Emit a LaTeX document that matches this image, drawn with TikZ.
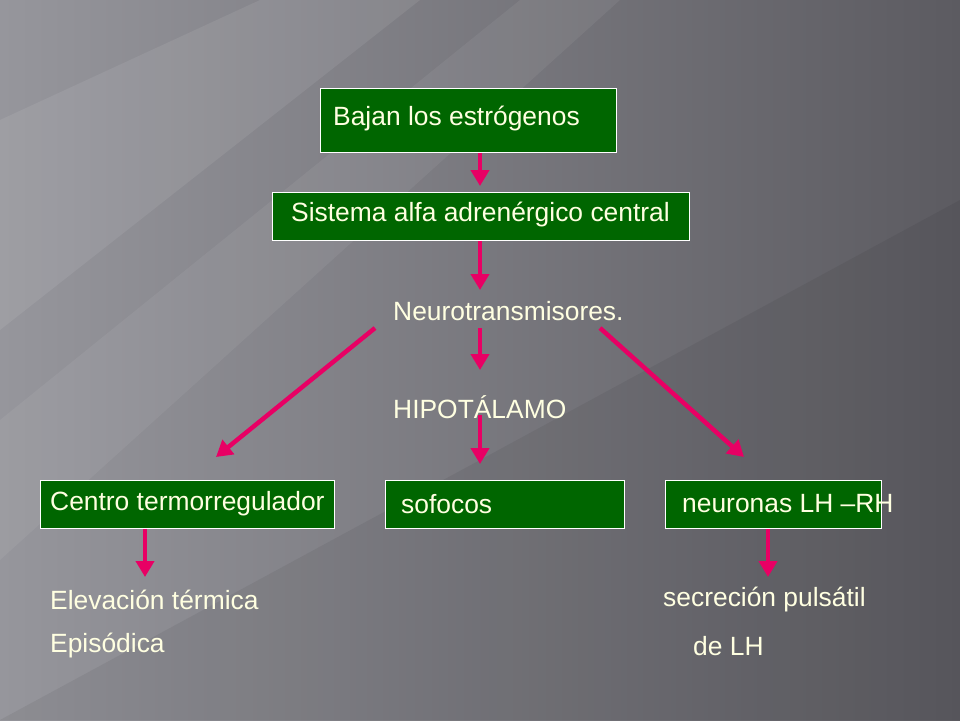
\documentclass[tikz,border=0pt]{standalone}
\usepackage{fontspec}
\setmainfont{Liberation Sans}
\usetikzlibrary{arrows.meta}
\definecolor{bgl}{RGB}{150,150,156}
\definecolor{bgd}{RGB}{92,91,97}
\definecolor{boxg}{RGB}{0,102,0}
\definecolor{txt}{RGB}{255,255,225}
\definecolor{arr}{RGB}{232,0,100}
\tikzset{
  box/.style={draw=white, line width=0.8pt, fill=boxg, inner sep=0pt, anchor=north west},
  lbl/.style={text=txt, font=\fontsize{26.4}{30}\selectfont, anchor=west, inner sep=0pt},
  arrw/.style={draw=arr, line width=4.5pt, -{Triangle[length=16pt,width=18pt]}}
}
\begin{document}
\begin{tikzpicture}[x=1pt,y=-1pt]
\useasboundingbox (0,0) rectangle (960,720);
\fill[left color=bgl, right color=bgd] (0,0) rectangle (960,720);
\fill[white, opacity=0.08] (0,120) -- (260,0) -- (420,0) -- (0,330) -- cycle;
\fill[white, opacity=0.06] (0,420) -- (520,0) -- (620,0) -- (0,560) -- cycle;
\fill[black, opacity=0.06] (0,720) -- (960,200) -- (960,720) -- cycle;
% boxes
\node[box, minimum width=296pt, minimum height=64pt] (b1) at (320,88) {};
\node[lbl] (t1) at (333,119) {Bajan los estrógenos};
\node[box, minimum width=417pt, minimum height=48pt] (b2) at (272,192) {};
\node[lbl] (t2) at (291,215) {Sistema alfa adrenérgico central};
\node[lbl] (nt) at (393,311) {Neurotransmisores.};
\node[lbl] (hp) at (393,407) {HIPOTÁLAMO};
\node[box, minimum width=294pt, minimum height=48pt] (b3) at (40,480) {};
\node[lbl] (t3) at (50,504) {Centro termorregulador};
\node[box, minimum width=239pt, minimum height=48pt] (b4) at (385,480) {};
\node[lbl] (t4) at (401,504) {sofocos};
\node[box, minimum width=216pt, minimum height=48pt] (b5) at (665,480) {};
\node[lbl] (t5) at (682,504) {neuronas LH –RH};
\node[lbl] (e1) at (50,600) {Elevación térmica};
\node[lbl] (e2) at (50,646) {Episódica};
\node[lbl] (s1) at (663,600) {secreción pulsátil};
\node[lbl] (s2) at (693,646) {de LH};
% connectors
\coordinate (n1) at (375,328); \coordinate (n2) at (480,328); \coordinate (n3) at (600,328);
\coordinate (h1) at (480,415);
\draw[arrw] (b1.south -| 480,0) -- (480,186);
\draw[arrw] (b2.south -| 480,0) -- (480,290);
\draw[arrw] (n1) -- (216,457);
\draw[arrw] (n2) -- (480,370);
\draw[arrw] (n3) -- (744,457);
\draw[arrw] (h1) -- (480,464);
\draw[arrw] (b3.south -| 145,0) -- (145,577);
\draw[arrw] (b5.south -| 768,0) -- (768,577);
\end{tikzpicture}
\end{document}
